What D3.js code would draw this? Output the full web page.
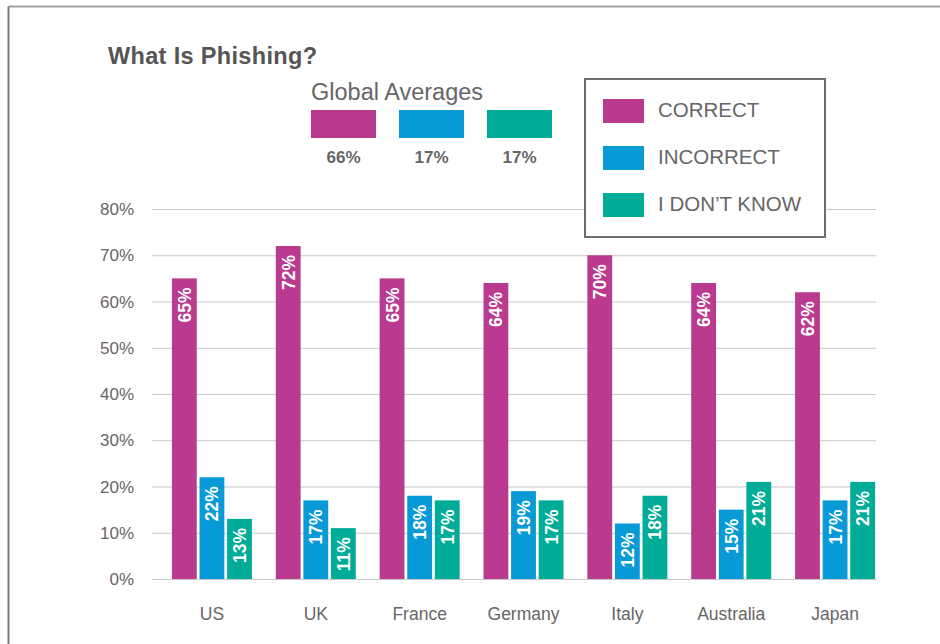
<!DOCTYPE html>
<html>
<head>
<meta charset="utf-8">
<script src="https://cdn.jsdelivr.net/npm/d3@7"></script>
<style>
  body { margin: 0; background: #fff; }
  svg { display: block; font-family: "Liberation Sans", Arial, sans-serif; }
</style>
</head>
<body>
<div id="chart"></div>
<script>
var width = 940, height = 644;

// data
var countries = ["US", "UK", "France", "Germany", "Italy", "Australia", "Japan"];
var series = ["CORRECT", "INCORRECT", "I DON\u2019T KNOW"];
var correct = [65, 72, 65, 64, 70, 64, 62];
var incorrect = [22, 17, 18, 19, 12, 15, 17];
var dontKnow = [13, 11, 17, 17, 18, 21, 21];
var globalAvg = [66, 17, 17];
var yTicks = [0, 10, 20, 30, 40, 50, 60, 70, 80];
var colors = ["#b93a8f", "#0899d7", "#00ac97"];

var values = [correct, incorrect, dontKnow];

var svg = d3.select("#chart")
  .append("svg")
    .attr("width", width)
    .attr("height", height);

// outer frame (top + left edges visible)
svg.append("line")
  .attr("x1", 8.5).attr("x2", width)
  .attr("y1", 6.5).attr("y2", 6.5)
  .attr("stroke", "#a0a0a0").attr("stroke-width", 2);
svg.append("line")
  .attr("x1", 8.5).attr("x2", 8.5)
  .attr("y1", 6.5).attr("y2", height)
  .attr("stroke", "#7a7a7a").attr("stroke-width", 2);

// title
svg.append("text")
  .attr("x", 108).attr("y", 64)
  .attr("font-size", 23.5)
  .attr("font-weight", "bold")
  .attr("fill", "#555")
  .attr("textLength", 209)
  .text("What Is Phishing?");

// scales
var y = d3.scaleLinear().domain([0, 80]).range([579, 209]);
var x0 = d3.scaleBand().domain(countries).range([160, 887]);
var x1 = d3.scaleBand().domain(series).range([0, 80]).paddingInner(0.1);
var groupOffset = (x0.bandwidth() - 80) / 2;

// gridlines
svg.append("g")
  .selectAll("line")
  .data(yTicks)
  .enter()
  .append("line")
    .attr("x1", 152).attr("x2", 876)
    .attr("y1", function(d) { return y(d) + 0.5; })
    .attr("y2", function(d) { return y(d) + 0.5; })
    .attr("stroke", "#c8c8c8")
    .attr("stroke-width", 1.2);

// y labels
svg.append("g")
  .selectAll("text")
  .data(yTicks)
  .enter()
  .append("text")
    .attr("x", 134)
    .attr("y", function(d) { return y(d) + 6; })
    .attr("text-anchor", "end")
    .attr("font-size", 17)
    .attr("fill", "#666")
    .text(function(d) { return d + "%"; });

// x labels
svg.append("g")
  .selectAll("text")
  .data(countries)
  .enter()
  .append("text")
    .attr("x", function(d) { return x0(d) + x0.bandwidth() / 2; })
    .attr("y", 620)
    .attr("text-anchor", "middle")
    .attr("font-size", 17.5)
    .attr("fill", "#666")
    .text(function(d) { return d; });

// bars
var barData = [];
countries.forEach(function(c, i) {
  series.forEach(function(s, j) {
    barData.push({country: c, series: s, idx: j, value: values[j][i]});
  });
});

var bar = svg.append("g")
  .selectAll("g")
  .data(barData)
  .enter()
  .append("g")
    .attr("transform", function(d) {
      return "translate(" + (x0(d.country) + groupOffset + x1(d.series)) + ",0)";
    });

bar.append("rect")
  .attr("x", 0)
  .attr("y", function(d) { return y(d.value); })
  .attr("width", x1.bandwidth())
  .attr("height", function(d) { return y(0) - y(d.value); })
  .attr("fill", function(d) { return colors[d.idx]; });

bar.append("text")
  .attr("transform", function(d) {
    return "translate(" + (x1.bandwidth() / 2 + 6.5) + "," + (y(d.value) + 9) + ") rotate(-90)";
  })
  .attr("text-anchor", "end")
  .attr("font-size", 17.5)
  .attr("font-weight", "bold")
  .attr("fill", "#fff")
  .text(function(d) { return d.value + "%"; });

// global averages
var ga = svg.append("g");
ga.append("text")
  .attr("x", 311).attr("y", 100)
  .attr("font-size", 23.5)
  .attr("fill", "#666")
  .text("Global Averages");

var gaX = d3.scaleBand().domain(series).range([311, 552]).paddingInner(0.261);

ga.selectAll("rect")
  .data(globalAvg)
  .enter()
  .append("rect")
    .attr("x", function(d, i) { return gaX(series[i]); })
    .attr("y", 110)
    .attr("width", gaX.bandwidth())
    .attr("height", 28)
    .attr("fill", function(d, i) { return colors[i]; });

ga.selectAll("text.val")
  .data(globalAvg)
  .enter()
  .append("text")
    .attr("class", "val")
    .attr("x", function(d, i) { return gaX(series[i]) + gaX.bandwidth() / 2; })
    .attr("y", 163)
    .attr("text-anchor", "middle")
    .attr("font-size", 17)
    .attr("font-weight", "bold")
    .attr("fill", "#666")
    .text(function(d) { return d + "%"; });

// legend
var legend = svg.append("g");
legend.append("rect")
  .attr("x", 585).attr("y", 79)
  .attr("width", 240).attr("height", 158)
  .attr("fill", "#fff")
  .attr("stroke", "#6d6d72")
  .attr("stroke-width", 2);

var item = legend.selectAll("g")
  .data(series)
  .enter()
  .append("g")
    .attr("transform", function(d, i) { return "translate(603," + (99 + i * 47) + ")"; });

item.append("rect")
  .attr("width", 41).attr("height", 24)
  .attr("fill", function(d, i) { return colors[i]; });

item.append("text")
  .attr("x", 55).attr("y", 17.5)
  .attr("font-size", 20.5)
  .attr("fill", "#666")
  .text(function(d) { return d; });
</script>
</body>
</html>
